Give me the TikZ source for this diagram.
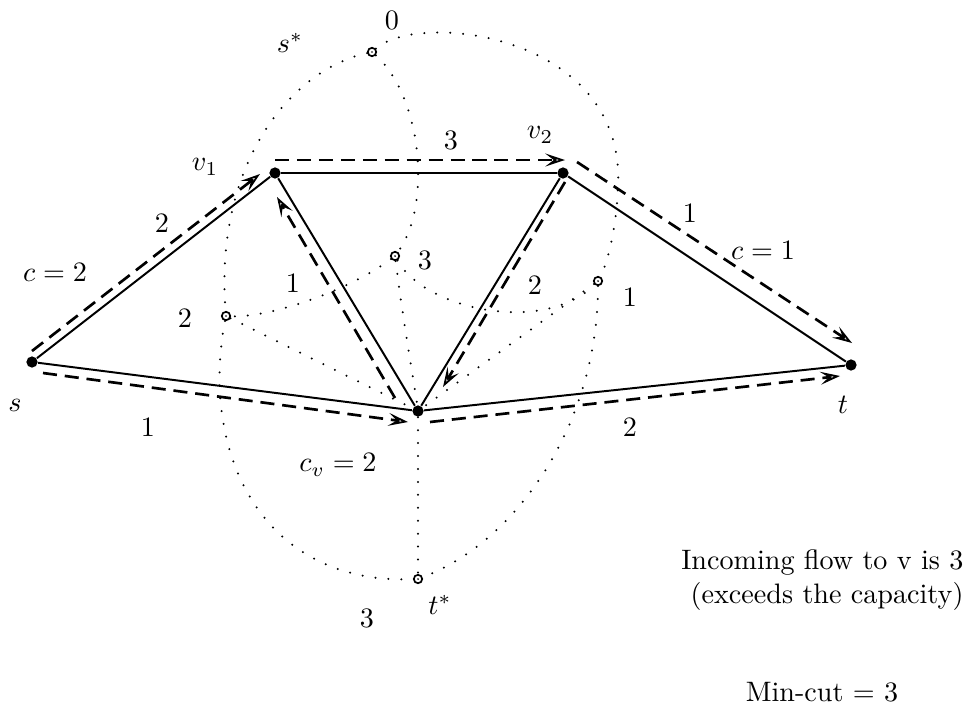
\documentclass[tikz,border=0pt]{standalone}
\usetikzlibrary{arrows.meta}

\begin{document}
\begin{tikzpicture}[
  x=0.0125cm, y=-0.0125cm,
  vtx/.style    = {circle, fill=black, inner sep=0pt, minimum size=4pt},
  dualv/.style  = {circle, draw=black, line width=0.6pt, inner sep=0pt, minimum size=3pt,
                   path picture={\fill (path picture bounding box.center) circle (0.35pt);}},
  primal/.style = {line width=0.7pt},
  flow/.style   = {line width=0.95pt, dash pattern=on 5pt off 2.8pt,
                   -{Stealth[open, length=7pt, width=4.6pt, inset=3pt, line width=0.65pt]}},
  dual/.style   = {line width=0.8pt, dash pattern=on 0pt off 4.6pt, line cap=round},
]
\useasboundingbox (0,0) rectangle (970,709);

% ---------- primal vertices ----------
\node[vtx] (s)  at (32,362)  {};
\node[vtx] (v1) at (275,173) {};
\node[vtx] (v2) at (563,173) {};
\node[vtx] (v)  at (418,411) {};
\node[vtx] (t)  at (851,365) {};

% ---------- dual vertices ----------
\node[dualv] (sd) at (372,52)  {};
\node[dualv] (f3) at (395,256) {};
\node[dualv] (f2) at (226,316) {};
\node[dualv] (f1) at (598,281) {};
\node[dualv] (td) at (418,579) {};

% ---------- dual edges ----------
\draw[dual] (sd) .. controls (420,10) and (625,35) .. (618,185)
                 .. controls (617,225) and (608,262) .. (f1);
\draw[dual] (sd) .. controls (290,70) and (214,165) .. (f2);
\draw[dual] (sd) .. controls (422,97) and (432,205) .. (f3);
\draw[dual] (f3) .. controls (403,320) and (412,370) .. (v);
\draw[dual] (f3) .. controls (425,310) and (545,335) .. (f1);
\draw[dual] (f3) .. controls (350,290) and (270,318) .. (f2);
\draw[dual] (f2) -- (v);
\draw[dual] (f1) -- (v);
\draw[dual] (v) -- (td);
\draw[dual] (f2) .. controls (200,450) and (260,585) .. (td);
\draw[dual] (f1) .. controls (598,420) and (520,540) .. (td);

% ---------- primal edges ----------
\draw[primal] (s) -- (v1);
\draw[primal] (v1) -- (v2);
\draw[primal] (v2) -- (t);
\draw[primal] (s) -- (v);
\draw[primal] (v) -- (t);
\draw[primal] (v1) -- (v);
\draw[primal] (v2) -- (v);

% ---------- flow ----------
\draw[flow] ([shift={(0,-11)}]s.center)  -- ([shift={(-15,1)}]v1.center);
\draw[flow] ([shift={(0,-13)}]v1.center) -- ([shift={(2,-13)}]v2.center);
\draw[flow] ([shift={(14,-11)}]v2.center) -- ([shift={(1,-22)}]t.center);
\draw[flow] ([shift={(11,11)}]s.center)  -- ([shift={(-10,11)}]v.center);
\draw[flow] ([shift={(12,11)}]v.center)  -- ([shift={(-11,11)}]t.center);
\draw[flow] ([shift={(-23,-13)}]v.center) -- ([shift={(2,24)}]v1.center);
\draw[flow] ([shift={(2,9)}]v2.center)   -- ([shift={(25,-24)}]v.center);

% ---------- labels ----------
\node (ls)   at (15,405)  {$s$};
\node (lt)   at (843,405) {$t$};
\node (lv1)  at (205,167) {$v_1$};
\node (lv2)  at (540,135) {$v_2$};
\node (lsd)  at (290,43)  {$s^*$};
\node (ltd)  at (440,605) {$t^*$};
\node (dsd)  at (392,20)  {0};
\node (df3)  at (425,260) {3};
\node (df2)  at (185,318) {2};
\node (df1)  at (630,297) {1};
\node (dtd)  at (367,618) {3};
\node (fsv1) at (162,223) {2};
\node (fv12) at (451,140) {3};
\node (fv2t) at (690,213) {1};
\node (fvv1) at (293,283) {1};
\node (fvv2) at (535,285) {2};
\node (fsv)  at (148,427) {1};
\node (fvt)  at (630,427) {2};
\node (csv1) at (55,272)  {$c=2$};
\node (cv2t) at (763,250) {$c=1$};
\node (cv)   at (338,465) {$c_v=2$};

\node[anchor=east, align=right, inner sep=0pt] (note) at (964,580)
  {Incoming flow to v is 3\\(exceeds the capacity)};
\node (mincut) at (822,692) {Min-cut $=$ 3};

\end{tikzpicture}
\end{document}
